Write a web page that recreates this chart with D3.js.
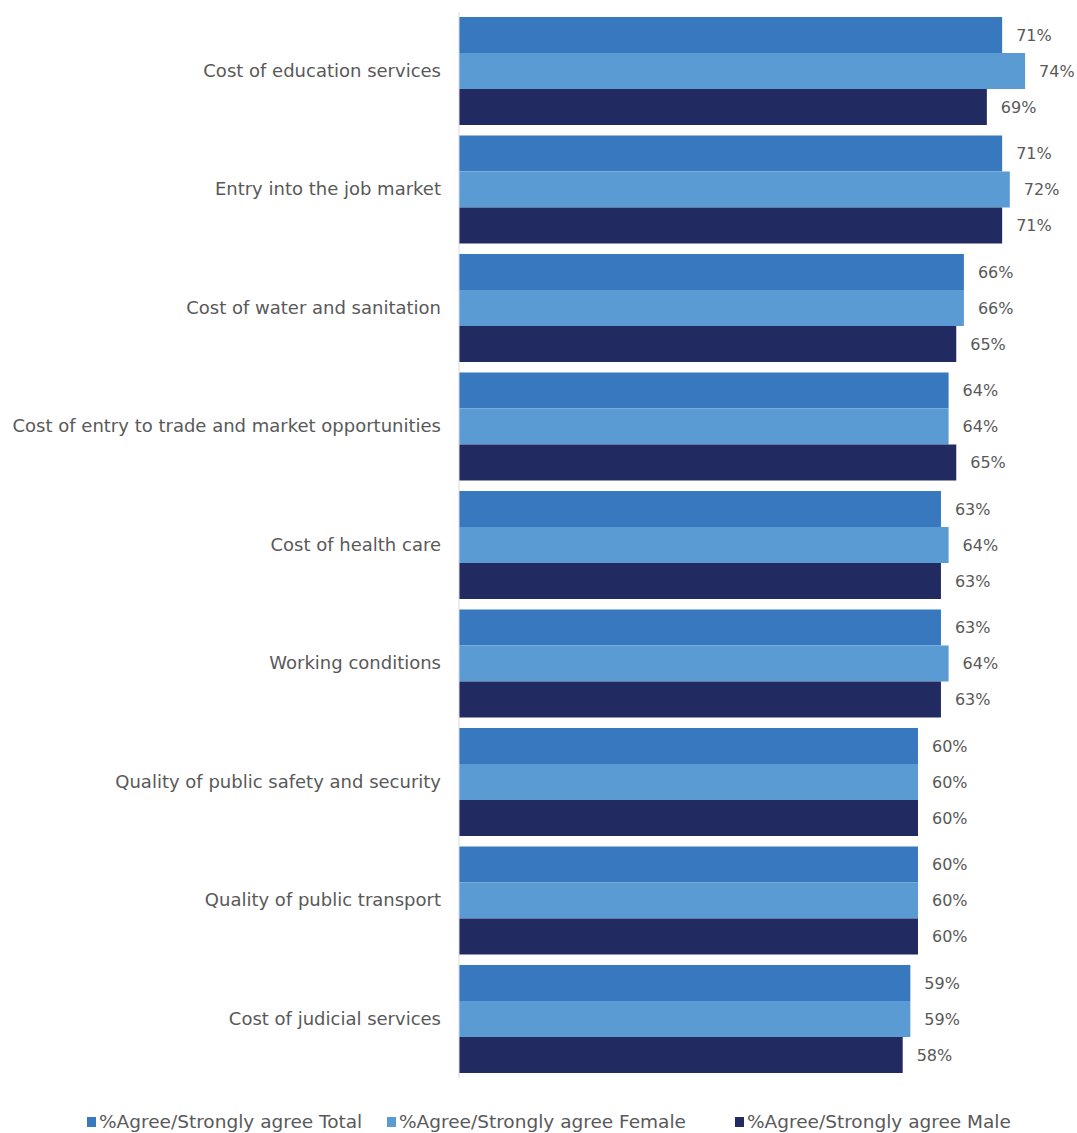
<!DOCTYPE html>
<html>
<head>
<meta charset="utf-8">
<script src="https://cdn.jsdelivr.net/npm/d3@7"></script>
<style>
  html, body { margin: 0; padding: 0; background: #fff; }
  text { font-family: "DejaVu Sans", sans-serif; fill: #595959; }
</style>
</head>
<body>
<svg id="chart" width="1077" height="1133"></svg>
<script>
const categories = [
  "Cost of education services",
  "Entry into the job market",
  "Cost of water and sanitation",
  "Cost of entry to trade and market opportunities",
  "Cost of health care",
  "Working conditions",
  "Quality of public safety and security",
  "Quality of public transport",
  "Cost of judicial services"
];
const seriesNames = [
  "%Agree/Strongly agree Total",
  "%Agree/Strongly agree Female",
  "%Agree/Strongly agree Male"
];
const totalValues  = [71, 71, 66, 64, 63, 63, 60, 60, 59];
const femaleValues = [74, 72, 66, 64, 64, 64, 60, 60, 59];
const maleValues   = [69, 71, 65, 65, 63, 63, 60, 60, 58];
const colors = ["#3878be", "#5b9bd3", "#222a62"];

const seriesValues = [totalValues, femaleValues, maleValues];
const rows = categories.map((c, i) => ({
  category: c,
  values: seriesValues.map((v, s) => ({ series: seriesNames[s], value: v[i], idx: s }))
}));

const svg = d3.select("#chart");
const x0 = 459;
const x = d3.scaleLinear().domain([0, 74]).range([x0, x0 + 74 * 7.65]);
const y = d3.scaleBand().domain(categories).range([17, 1073]).paddingInner(10.5 / 118.5).paddingOuter(0);
const yInner = d3.scaleBand().domain(seriesNames).range([0, y.bandwidth()]);

const groups = svg.selectAll("g.group").data(rows).join("g")
  .attr("class", "group")
  .attr("transform", d => `translate(0,${y(d.category)})`);

groups.selectAll("rect").data(d => d.values).join("rect")
  .attr("x", x(0))
  .attr("y", d => yInner(d.series))
  .attr("width", d => x(d.value) - x(0))
  .attr("height", yInner.bandwidth())
  .attr("fill", d => colors[d.idx]);

groups.selectAll("text.val").data(d => d.values).join("text")
  .attr("class", "val")
  .attr("x", d => x(d.value) + 14)
  .attr("y", d => yInner(d.series) + yInner.bandwidth() / 2)
  .attr("dy", "0.35em")
  .attr("font-size", 16)
  .text(d => d.value + "%");

// category axis
const yAxis = d3.axisLeft(y).tickSize(0).tickPadding(18);
const ag = svg.append("g").attr("transform", `translate(${x0},0)`).call(yAxis);
ag.select(".domain").remove();
ag.selectAll("text").attr("font-size", 18).style("font-family", "DejaVu Sans, sans-serif").attr("fill", "#595959");
svg.append("line")
  .attr("x1", x0).attr("x2", x0)
  .attr("y1", 12).attr("y2", 1078)
  .attr("stroke", "#d9d9d9").attr("stroke-width", 1);

// legend
const legendX = [87, 387, 735];
const lg = svg.selectAll("g.legend").data(seriesNames).join("g")
  .attr("class", "legend")
  .attr("transform", (d, i) => `translate(${legendX[i]},1122)`);
lg.append("rect").attr("x", 0).attr("y", -5).attr("width", 9).attr("height", 10)
  .attr("fill", (d, i) => colors[i]);
lg.append("text").attr("x", 12).attr("dy", "0.35em").attr("font-size", 18.5).text(d => d);
</script>
</body>
</html>
